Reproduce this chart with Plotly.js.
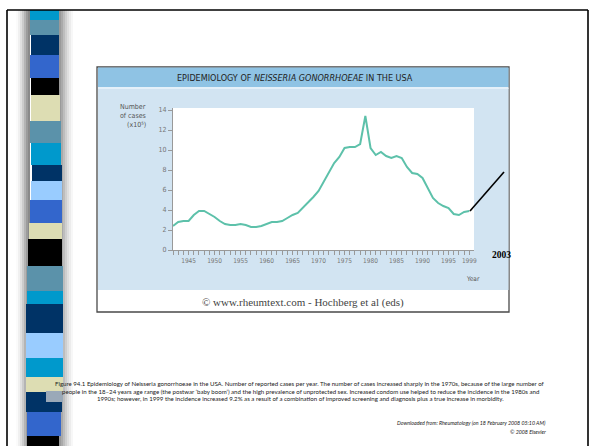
<!DOCTYPE html>
<html><head><meta charset="utf-8">
<script src="https://cdn.plot.ly/plotly-3.0.1.min.js"></script>
<style>html,body{margin:0;padding:0;background:#fff;}#chart{width:594px;height:446px;}</style>
</head><body><div id="chart"></div>
<script>
// ---- data ----
const years = [1942,1943,1944,1945,1946,1947,1948,1949,1950,1951,1952,1953,1954,1955,1956,1957,1958,1959,
  1960,1961,1962,1963,1964,1965,1966,1967,1968,1969,1970,1971,1972,1973,1974,1975,1976,1977,1978,1979,
  1980,1981,1982,1983,1984,1985,1986,1987,1988,1989,1990,1991,1992,1993,1994,1995,1996,1997,1998,1999];
const cases = [2.4,2.8,2.9,2.9,3.5,3.9,3.9,3.6,3.3,2.9,2.6,2.5,2.5,2.6,2.5,2.3,2.3,2.4,
  2.6,2.8,2.8,2.9,3.2,3.5,3.7,4.2,4.7,5.3,5.9,6.8,7.7,8.7,9.3,10.2,10.3,10.3,10.6,13.4,
  10.2,9.5,9.8,9.4,9.2,9.4,9.2,8.3,7.7,7.6,7.2,6.2,5.2,4.7,4.4,4.2,3.6,3.5,3.8,3.9];
const xTickVals = [1945,1950,1955,1960,1965,1970,1975,1980,1985,1990,1995,1999];
const xTickText = ['1945','1950','1955','1960','1965','1970','1975','1980','1985','1990','1995','1999'];
const yTickVals = [0,2,4,6,8,10,12,14];
const chartTitle = 'EPIDEMIOLOGY OF <i>NEISSERIA GONORRHOEAE</i> IN THE USA';
const yLabelLines = ['Number','of cases','(x10\u2075)'];
const xLabel = 'Year';
const markYear = '2003';
const credit = '\u00A9 www.rheumtext.com - Hochberg et al (eds)';
const captionLines = [
 'Figure 94.1 Epidemiology of Neisseria gonorrhoeae in the USA. Number of reported cases per year. The number of cases increased sharply in the 1970s, because of the large number of',
 'people in the 18\u201324 years age range (the postwar \u2018baby boom\u2019) and the high prevalence of unprotected sex. Increased condom use helped to reduce the incidence in the 1980s and',
 '1990s; however, in 1999 the incidence increased 9.2% as a result of a combination of improved screening and diagnosis plus a true increase in morbidity.'
];
const sourceLines = ['Downloaded from: Rheumatology (on 18 February 2008 05:10 AM)','\u00A9 2008 Elsevier'];
const stripColors = ['#0099CC','#5B92AA','#003366','#3366CC','#000000','#DDDDB3','#5B92AA','#0099CC','#003366','#99CCFF','#3366CC','#DDDDB3','#000000','#5B92AA','#0099CC','#003366','#99CCFF','#0099CC','#DDDDB3','#003366','#3366CC','#000000'];

// ---- layout geometry (pixels) ----
const W=594,H=446, PL=173, PR=474, PT=108, PB=250;
const pw=PR-PL, ph=PB-PT;
const px = x => (x-PL)/pw;
const py = y => (PB-y)/ph;
const stripEdges = [10,20,35,55,78,95,121,143,165,181,200,223,239,266,291,304,333,358,377,392,412,436,447];
const stripX = [[30,59],[30,59],[31,59],[30,59],[31,59],[31,60],[30,61],[31,61],[32,62],[31,62],[30,62],[29,62],[28,62],[27,63],[27,63],[26,63],[26,63],[26,63],[26,63],[26,62],[27,61],[27,59]];

const shapes=[];
function rect(x0,y0,x1,y1,fill,line,lw,layer){
  shapes.push({type:'rect',xref:'paper',yref:'paper',x0:px(x0),x1:px(x1),y0:py(y1),y1:py(y0),
    fillcolor:fill,line:{color:line||fill,width:line?lw:0},layer:layer||'below'});
}
function seg(x0,y0,x1,y1,color,w,layer){
  shapes.push({type:'line',xref:'paper',yref:'paper',x0:px(x0),x1:px(x1),y0:py(y0),y1:py(y1),
    line:{color:color,width:w},layer:layer||'below'});
}
// strip shadows
const leftShade=['#fbfbfb','#f0f0f0','#e0e0e0','#cccccc','#b4b4b4','#9c9c9c','#8a8a8a'];
leftShade.forEach((c,i)=>rect(16+i*2,10,18+i*2,446,c));
const rightShade=['#9a9a9a','#aaaaaa','#bdbdbd','#cfcfcf','#dfdfdf','#ececec','#f7f7f7'];
rightShade.forEach((c,i)=>rect(59+i*2,10,61+i*2,446,c));
stripColors.forEach((c,i)=>rect(stripX[i][0],stripEdges[i],stripX[i][1],stripEdges[i+1],c));
// slide border
seg(7,10,588,10,'#000',1.6); seg(7,10,7,446,'#000',1.6); seg(588,10,588,446,'#000',1.6);
// selection artifact near caption
rect(46,391,63,402,'#9aa9b8');
// chart box
rect(97,67,509,312,'#ffffff','#4a4a4a',1.3);
rect(98,88,508.5,290,'#D2E4F2');
rect(98,67.5,508.5,87,'#8FC3E4');
rect(98,87,508.5,89,'#E4F0F9');
rect(PL,PT,PR,PB,'#ffffff');
// arrow line to 2003
seg(470,211,504,172,'#000000',1.6,'above');

const ann=[];
function txt(x,y,t,size,opt){
  opt=opt||{};
  ann.push({xref:'paper',yref:'paper',x:px(x),y:py(y),text:t,showarrow:false,
    xanchor:opt.xa||'center',yanchor:'middle',align:opt.align||'center',
    font:{family:opt.family||'Liberation Sans Narrow, DejaVu Sans Condensed, sans-serif',size:size,color:opt.color||'#333',weight:opt.weight||'normal',style:opt.style||'normal'}});
}
txt(295,78,chartTitle,9,{color:'#222'});
yLabelLines.forEach((l,i)=>txt(148,107+i*9,l,7,{xa:'right',color:'#555'}));
txt(473,279,xLabel,6.5,{color:'#555'});
txt(501,255,markYear,9.5,{family:'Liberation Serif, serif',weight:'bold',color:'#000'});
txt(303,302,credit,11,{family:'Liberation Serif, serif',color:'#444'});
captionLines.forEach((l,i)=>txt(300,383+i*8,l,6.1,{family:'Lato, sans-serif',color:'#222'}));
txt(548,423,sourceLines[0],5.3,{xa:'right',family:'Lato, sans-serif',style:'italic',color:'#222'});
txt(548,432,sourceLines[1],5.3,{xa:'right',family:'Lato, sans-serif',style:'italic',color:'#222'});

const trace={x:years,y:cases,type:'scatter',mode:'lines',line:{color:'#5DC1AA',width:2},hoverinfo:'skip'};
const layout={
  width:W,height:H,margin:{l:PL,r:W-PR,t:PT,b:H-PB,pad:0},
  paper_bgcolor:'#ffffff',plot_bgcolor:'rgba(0,0,0,0)',showlegend:false,
  xaxis:{range:[1942,1999.9],tickmode:'array',tickvals:xTickVals,ticktext:xTickText,
    ticks:'outside',ticklen:4,tickcolor:'#999',tickwidth:1,showline:true,linecolor:'#999',linewidth:1,
    showgrid:false,zeroline:false,tickfont:{family:'Liberation Sans Narrow, DejaVu Sans Condensed, sans-serif',size:6.5,color:'#777'},
    minor:{tickmode:'linear',tick0:1942,dtick:1,ticks:'outside',ticklen:4,tickcolor:'#999',showgrid:false}},
  yaxis:{range:[0,14.2],tickmode:'array',tickvals:yTickVals,ticks:'outside',ticklen:4,tickcolor:'#999',
    showline:true,linecolor:'#999',linewidth:1,showgrid:false,zeroline:false,
    tickfont:{family:'Liberation Sans Narrow, DejaVu Sans Condensed, sans-serif',size:7,color:'#777'}},
  shapes:shapes,annotations:ann
};
Plotly.newPlot('chart',[trace],layout,{staticPlot:true,displayModeBar:false});
</script></body></html>
